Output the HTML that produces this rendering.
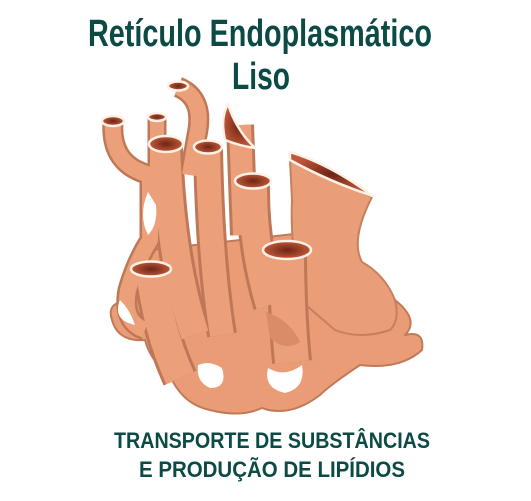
<!DOCTYPE html>
<html><head><meta charset="utf-8"><style>
html,body{margin:0;padding:0;background:#fff;width:531px;height:501px;overflow:hidden}
svg{display:block}
.t{font-family:"Liberation Sans Narrow","Liberation Sans",sans-serif;font-weight:bold;fill:#0b4a45}
</style></head><body>
<svg width="531" height="501" viewBox="0 0 531 501">
<defs>
<radialGradient id="o"><stop offset="0" stop-color="#6e2414"/><stop offset="1" stop-color="#c0583a"/></radialGradient>
</defs>
<text class="t" x="260" y="46" font-size="38" text-anchor="middle" textLength="344" lengthAdjust="spacingAndGlyphs">Retículo Endoplasmático</text>
<text class="t" x="261" y="89" font-size="38" text-anchor="middle" textLength="58" lengthAdjust="spacingAndGlyphs">Liso</text>

<g stroke-linecap="butt" stroke-linejoin="round" fill="none">
<path d="M135 300 Q128 260 150 250 L330 230 Q345 280 395 300 Q420 320 405 335 Q425 330 422 350 Q400 370 360 365 Q330 385 320 395 Q290 418 262 408 Q240 418 210 410 Q185 405 172 380 Q150 360 145 340 Q118 342 112 320 Q105 300 135 300Z" fill="#e99c76" stroke="#c17a58" stroke-width="2"/>
<path d="M290 160 L372 197 Q350 240 362 262 Q385 275 395 300 Q400 320 390 330 Q360 340 335 330 L300 300 Q290 240 292 200Z" fill="#ea9e78" stroke="#c4805f" stroke-width="2"/>
<g stroke="#bf7857">
<path stroke-width="21" d="M113 122 Q110 165 150 175 L150 240 Q136 262 128 290 Q122 322 145 330"/>
<path stroke-width="19" d="M157 118 L157 175"/>
<path stroke-width="21" d="M178 87 Q205 98 197 135 L190 175"/>
<path stroke-width="34" d="M166 145 Q170 260 195 335"/>
<path stroke-width="30" d="M208 148 Q210 260 222 335"/>
<path stroke-width="28" d="M240 125 L244 235"/>
<path stroke-width="34" d="M253 182 Q252 245 270 305"/>
<path stroke-width="40" d="M287 250 Q287 310 292 362"/>
<path stroke-width="36" d="M151 270 Q158 330 180 378"/>
</g>
<g stroke="#eba07a">
<path stroke-width="16" d="M113 122 Q110 165 150 175 L150 240 Q136 262 128 290 Q122 322 145 330"/>
<path stroke-width="14" d="M157 118 L157 175"/>
<path stroke-width="16" d="M178 87 Q205 98 197 135 L190 175"/>
<path stroke-width="28" d="M166 145 Q170 260 195 335"/>
<path stroke-width="24" d="M208 148 Q210 260 222 335"/>
<path stroke-width="22" d="M240 125 L244 235"/>
<path stroke-width="28" d="M253 182 Q252 245 270 305"/>
<path stroke-width="34" d="M287 250 Q287 310 292 362"/>
<path stroke-width="30" d="M151 270 Q158 330 180 378"/>
</g>
<path d="M148 192 Q138 215 148 235 Q158 225 156 205Z" fill="#fff"/>
<path d="M120 300 Q112 320 135 325 Q130 310 120 300Z" fill="#fff"/>
<path d="M198 365 Q210 360 222 368 Q228 388 210 388 Q196 382 198 365Z" fill="#fff"/>
<path d="M268 368 Q285 378 302 365 Q306 388 285 393 Q263 388 268 368Z" fill="#fff"/>
<path d="M266 312 Q290 320 300 342 Q285 352 270 338Z" fill="#d98c66"/>
<g stroke="#fdf1e6" stroke-width="2.5" fill="url(#o)">
<ellipse cx="113" cy="121" rx="11" ry="5"/>
<ellipse cx="157" cy="117" rx="9" ry="4"/>
<ellipse cx="178" cy="86" rx="10" ry="4.5"/>
<ellipse cx="166" cy="144" rx="17" ry="8"/>
<ellipse cx="208" cy="147" rx="14" ry="6.5"/>
<path d="M228 104 Q236 130 255 148 Q240 146 225 140 Q220 118 228 104Z"/>
<ellipse cx="253" cy="181" rx="18" ry="7.5"/>
<path d="M290 152 Q330 164 373 196 Q330 182 290 160Z"/>
<ellipse cx="287" cy="250" rx="24" ry="9"/>
<ellipse cx="151" cy="269" rx="20" ry="7.5"/>
</g>
</g>

<text class="t" x="272" y="448" font-size="22" text-anchor="middle" textLength="316" lengthAdjust="spacingAndGlyphs">TRANSPORTE DE SUBSTÂNCIAS</text>
<text class="t" x="272" y="477" font-size="22" text-anchor="middle" textLength="266" lengthAdjust="spacingAndGlyphs">E PRODUÇÃO DE LIPÍDIOS</text>
</svg>
</body></html>
